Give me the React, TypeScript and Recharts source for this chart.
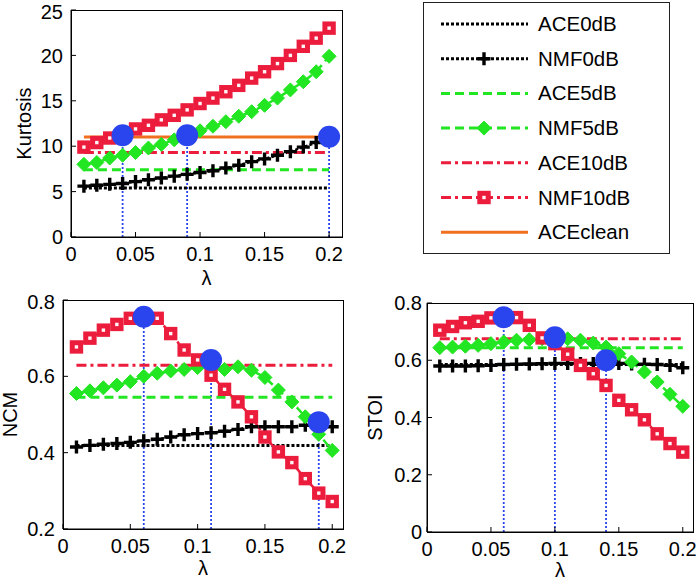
import React from 'react';
import { ComposedChart, Line, Scatter, XAxis, YAxis, ReferenceLine } from 'recharts';

// shared lambda grid and x ticks
const lambdas = [0.01, 0.02, 0.03, 0.04, 0.05, 0.06, 0.07, 0.08, 0.09, 0.1, 0.11, 0.12, 0.13, 0.14, 0.15, 0.16, 0.17, 0.18, 0.19, 0.2];
const xTicks = [0, 0.05, 0.1, 0.15, 0.2];

// Kurtosis panel
const kurtNmf0 = [5.6, 5.7, 5.8, 5.9, 6.1, 6.3, 6.5, 6.7, 6.9, 7.1, 7.3, 7.6, 7.9, 8.3, 8.6, 9.0, 9.4, 9.9, 10.4, 10.9];
const kurtNmf5 = [8.0, 8.2, 8.7, 9.0, 9.3, 9.8, 10.2, 10.7, 11.1, 11.7, 12.2, 12.7, 13.3, 13.8, 14.5, 15.3, 16.2, 17.1, 18.2, 19.9];
const kurtNmf10 = [9.9, 10.4, 10.9, 11.3, 11.9, 12.3, 12.9, 13.4, 14.0, 14.7, 15.3, 16.0, 16.7, 17.5, 18.2, 19.1, 20.0, 21.0, 21.9, 23.0];
const kurtAce = [5.4, 7.4, 9.3]; // 0dB, 5dB, 10dB
const kurtClean = 11.0;
const kurtMarks = [
  { lam: 0.04, value: 11.2 },
  { lam: 0.09, value: 11.2 },
  { lam: 0.2, value: 11.05 },
];
const kurtTicks = [0, 5, 10, 15, 20, 25];

// NCM panel
const ncmNmf0 = [0.415, 0.419, 0.422, 0.424, 0.427, 0.431, 0.435, 0.441, 0.447, 0.45, 0.452, 0.456, 0.461, 0.468, 0.468, 0.468, 0.468, 0.472, 0.468, 0.468];
const ncmNmf5 = [0.555, 0.562, 0.57, 0.577, 0.586, 0.6, 0.608, 0.614, 0.618, 0.623, 0.625, 0.618, 0.625, 0.616, 0.597, 0.564, 0.533, 0.494, 0.448, 0.406];
const ncmNmf10 = [0.677, 0.7, 0.721, 0.736, 0.752, 0.756, 0.752, 0.712, 0.669, 0.643, 0.603, 0.566, 0.533, 0.494, 0.441, 0.402, 0.374, 0.332, 0.294, 0.272];
const ncmAce = [0.419, 0.545, 0.629];
const ncmMarks = [
  { lam: 0.06, value: 0.756 },
  { lam: 0.11, value: 0.643 },
  { lam: 0.19, value: 0.48 },
];
const ncmTicks = [0.2, 0.4, 0.6, 0.8];

// STOI panel
const stoiNmf0 = [0.58, 0.58, 0.58, 0.581, 0.582, 0.585, 0.586, 0.587, 0.588, 0.589, 0.589, 0.589, 0.589, 0.589, 0.589, 0.587, 0.586, 0.585, 0.582, 0.574];
const stoiNmf5 = [0.644, 0.646, 0.649, 0.652, 0.658, 0.664, 0.67, 0.672, 0.675, 0.675, 0.675, 0.67, 0.66, 0.646, 0.623, 0.594, 0.559, 0.524, 0.481, 0.439];
const stoiNmf10 = [0.705, 0.718, 0.731, 0.736, 0.748, 0.75, 0.749, 0.722, 0.678, 0.658, 0.621, 0.582, 0.553, 0.512, 0.46, 0.427, 0.392, 0.343, 0.309, 0.279];
const stoiAce = [0.585, 0.644, 0.675];
const stoiMarks = [
  { lam: 0.06, value: 0.75 },
  { lam: 0.1, value: 0.68 },
  { lam: 0.14, value: 0.6 },
];
const stoiTicks = [0, 0.2, 0.4, 0.6, 0.8];

const legendLabels = ['ACE0dB', 'NMF0dB', 'ACE5dB', 'NMF5dB', 'ACE10dB', 'NMF10dB', 'ACEclean'];

const BLACK = '#000000';
const GREEN = '#22e622';
const RED = '#ec1c3c';
const ORANGE = '#f07020';
const BLUE = '#2a44ee';
const FONT = '"Liberation Sans", Arial, Helvetica, sans-serif';

const DOTTED = '3 2';
const DASHED = '9 5';
const DASHDOT = '10 4 3 4';

const PlusDot = (p: any) => {
  if (p.cx == null || p.cy == null) return <g key={p.key} />;
  const { cx, cy } = p;
  return (
    <path key={p.key} d={`M${cx - 6.5},${cy}H${cx + 6.5}M${cx},${cy - 6.5}V${cy + 6.5}`} stroke={BLACK} strokeWidth={3.4} fill="none" />
  );
};

const DiamondDot = (p: any) => {
  if (p.cx == null || p.cy == null) return <g key={p.key} />;
  const { cx, cy } = p;
  return (
    <path key={p.key} d={`M${cx - 7},${cy}L${cx},${cy - 7}L${cx + 7},${cy}L${cx},${cy + 7}Z`} fill={GREEN} stroke={GREEN} strokeWidth={1} />
  );
};

const SquareDot = (p: any) => {
  if (p.cx == null || p.cy == null) return <g key={p.key} />;
  const { cx, cy } = p;
  return <rect key={p.key} x={cx - 4.2} y={cy - 4.2} width={8.4} height={8.4} fill="#fff4f6" stroke={RED} strokeWidth={5} />;
};

const BlueCircle = (p: any) => {
  if (p.cx == null || p.cy == null) return <g />;
  return <circle cx={p.cx} cy={p.cy} r={11} fill={BLUE} />;
};

const YTitle = ({ viewBox, value, gap }: any) => {
  const x = viewBox.x + viewBox.width - gap;
  const y = viewBox.y + viewBox.height / 2;
  return (
    <text x={x} y={y} transform={`rotate(-90 ${x} ${y})`} textAnchor="middle" fontSize={20} fontFamily={FONT} fill={BLACK}>
      {value}
    </text>
  );
};

const XTitle = ({ viewBox, value, gap }: any) => {
  const x = viewBox.x + viewBox.width / 2;
  const y = viewBox.y + gap;
  return (
    <text x={x} y={y} textAnchor="middle" fontSize={20} fontFamily={FONT} fill={BLACK}>
      {value}
    </text>
  );
};

function buildRows(nmf0: number[], nmf5: number[], nmf10: number[], ace: number[], clean?: number) {
  return lambdas.map((lam, i) => ({
    lam,
    ace0: ace[0],
    nmf0: nmf0[i],
    ace5: ace[1],
    nmf5: nmf5[i],
    ace10: ace[2],
    nmf10: nmf10[i],
    clean,
  }));
}

interface PanelProps {
  rows: any[];
  marks: { lam: number; value: number }[];
  yDomain: [number, number];
  yTicks: number[];
  xDomain: [number, number];
  title: string;
  left: number;
  top: number;
  width: number;
  height: number;
  margin: { top: number; right: number; bottom: number; left: number };
  yAxisWidth: number;
  xAxisHeight: number;
  yTitleGap: number;
  xTitleGap: number;
  yTickGap: number;
  showClean?: boolean;
}

const tickStyle = { fill: BLACK, fontSize: 20, fontFamily: FONT };

const Panel: React.FC<PanelProps> = (p) => {
  // plot rectangle, same as the offset recharts derives from margin + axis sizes
  const plotLeft = p.margin.left + p.yAxisWidth;
  const plotTop = p.margin.top;
  const plotW = p.width - plotLeft - p.margin.right;
  const plotH = p.height - plotTop - p.xAxisHeight - p.margin.bottom;
  return (
    <div style={{ position: 'absolute', left: p.left, top: p.top, width: p.width, height: p.height }}>
      <ComposedChart width={p.width} height={p.height} data={p.rows} margin={p.margin}>
        <XAxis
          dataKey="lam"
          type="number"
          domain={p.xDomain}
          ticks={xTicks}
          allowDataOverflow
          height={p.xAxisHeight}
          tickSize={-5}
          tickMargin={15}
          tick={tickStyle}
          axisLine={{ stroke: BLACK }}
          tickLine={{ stroke: BLACK }}
          label={<XTitle value="λ" gap={p.xTitleGap} />}
        />
        <YAxis
          type="number"
          domain={p.yDomain}
          ticks={p.yTicks}
          allowDataOverflow
          width={p.yAxisWidth}
          tickSize={-5}
          tickMargin={5 + p.yTickGap}
          tick={tickStyle}
          axisLine={{ stroke: BLACK }}
          tickLine={{ stroke: BLACK }}
          label={<YTitle value={p.title} gap={p.yTitleGap} />}
        />
        {p.marks.map((m) => (
          <ReferenceLine
            key={`v${m.lam}`}
            segment={[
              { x: m.lam, y: p.yDomain[0] },
              { x: m.lam, y: m.value },
            ]}
            stroke={BLUE}
            strokeWidth={1.8}
            strokeDasharray="2 2"
          />
        ))}
        <Line dataKey="ace0" stroke={BLACK} strokeWidth={3} strokeDasharray={DOTTED} dot={false} activeDot={false} isAnimationActive={false} />
        <Line dataKey="nmf0" stroke={BLACK} strokeWidth={2.5} strokeDasharray={DOTTED} dot={PlusDot} activeDot={false} isAnimationActive={false} />
        <Line dataKey="ace5" stroke={GREEN} strokeWidth={3} strokeDasharray={DASHED} dot={false} activeDot={false} isAnimationActive={false} />
        <Line dataKey="nmf5" stroke={GREEN} strokeWidth={2.5} strokeDasharray={DASHED} dot={DiamondDot} activeDot={false} isAnimationActive={false} />
        <Line dataKey="ace10" stroke={RED} strokeWidth={3} strokeDasharray={DASHDOT} dot={false} activeDot={false} isAnimationActive={false} />
        <Line dataKey="nmf10" stroke={RED} strokeWidth={2.5} strokeDasharray={DASHDOT} dot={SquareDot} activeDot={false} isAnimationActive={false} />
        <Scatter data={p.marks} dataKey="value" shape={BlueCircle} isAnimationActive={false} />
        {p.showClean && (
          <Line dataKey="clean" stroke={ORANGE} strokeWidth={3} dot={false} activeDot={false} isAnimationActive={false} />
        )}
      </ComposedChart>
      {/* axes box */}
      <div
        style={{
          position: 'absolute',
          left: plotLeft,
          top: plotTop,
          width: plotW + 1,
          height: plotH + 1,
          boxSizing: 'border-box',
          border: `1px solid ${BLACK}`,
          pointerEvents: 'none',
        }}
      />
    </div>
  );
};

const legendStyles = [
  { color: BLACK, dash: DOTTED, marker: 'none' },
  { color: BLACK, dash: DOTTED, marker: 'plus' },
  { color: GREEN, dash: DASHED, marker: 'none' },
  { color: GREEN, dash: DASHED, marker: 'diamond' },
  { color: RED, dash: DASHDOT, marker: 'none' },
  { color: RED, dash: DASHDOT, marker: 'square' },
  { color: ORANGE, dash: undefined, marker: 'none' },
];

const LegendBox: React.FC = () => (
  <div
    style={{
      position: 'absolute',
      left: 423,
      top: 2,
      width: 245,
      height: 250,
      border: '1px solid #222',
      background: '#fff',
    }}
  >
    <svg width={245} height={250}>
      {legendLabels.map((label, i) => {
        const s = legendStyles[i];
        const y = 21 + i * 34.7;
        const mx = 60;
        return (
          <g key={label}>
            <line x1={17} x2={104} y1={y} y2={y} stroke={s.color} strokeWidth={3} strokeDasharray={s.dash} />
            {s.marker === 'plus' && <PlusDot cx={mx} cy={y} />}
            {s.marker === 'diamond' && <DiamondDot cx={mx} cy={y} />}
            {s.marker === 'square' && <SquareDot cx={mx} cy={y} />}
            <text x={114} y={y + 7} fontSize={20.5} fontFamily={FONT} fill={BLACK}>
              {label}
            </text>
          </g>
        );
      })}
    </svg>
  </div>
);

const kurtRows = buildRows(kurtNmf0, kurtNmf5, kurtNmf10, kurtAce, kurtClean);
const ncmRows = buildRows(ncmNmf0, ncmNmf5, ncmNmf10, ncmAce);
const stoiRows = buildRows(stoiNmf0, stoiNmf5, stoiNmf10, stoiAce);

export default function App() {
  return (
    <div style={{ position: 'absolute', left: 0, top: 0, width: 700, height: 585, background: '#fff', fontFamily: FONT }}>
      <Panel
        rows={kurtRows}
        marks={kurtMarks}
        yDomain={[0, 25]}
        yTicks={kurtTicks}
        xDomain={[0, 0.21]}
        title="Kurtosis"
        left={0}
        top={0}
        width={350}
        height={290}
        margin={{ top: 10, right: 8, bottom: 0, left: 0 }}
        yAxisWidth={71}
        xAxisHeight={53}
        yTitleGap={40}
        xTitleGap={48}
        yTickGap={8}
        showClean
      />
      <LegendBox />
      <Panel
        rows={ncmRows}
        marks={ncmMarks}
        yDomain={[0.2, 0.8]}
        yTicks={ncmTicks}
        xDomain={[0, 0.208]}
        title="NCM"
        left={0}
        top={290}
        width={350}
        height={295}
        margin={{ top: 10, right: 7, bottom: 0, left: 0 }}
        yAxisWidth={63}
        xAxisHeight={56}
        yTitleGap={46}
        xTitleGap={46}
        yTickGap={8}
      />
      <Panel
        rows={stoiRows}
        marks={stoiMarks}
        yDomain={[0, 0.8]}
        yTicks={stoiTicks}
        xDomain={[0, 0.208]}
        title="STOI"
        left={350}
        top={290}
        width={350}
        height={295}
        margin={{ top: 13, right: 7, bottom: 0, left: 0 }}
        yAxisWidth={77}
        xAxisHeight={53}
        yTitleGap={45}
        xTitleGap={45}
        yTickGap={5}
      />
    </div>
  );
}
